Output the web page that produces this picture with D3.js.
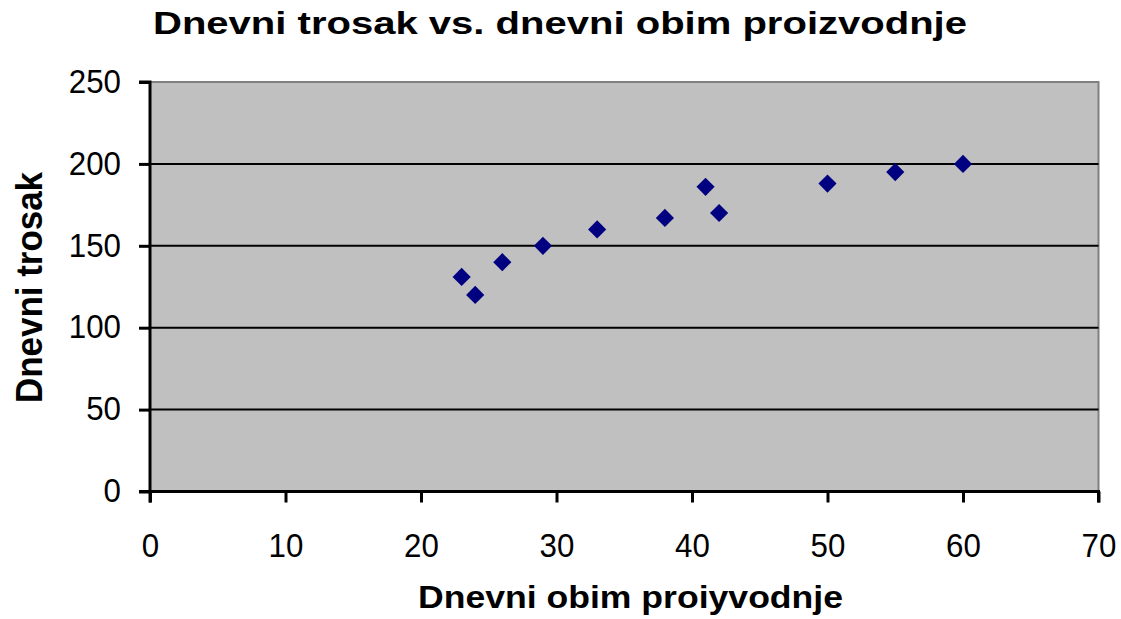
<!DOCTYPE html>
<html lang="en">
    <head>
        <meta charset="utf-8">
        <title>Dnevni trosak vs. dnevni obim proizvodnje</title>
        <script src="https://d3js.org/d3.v7.min.js"></script>
        <style type="text/css">
            body { margin: 0; background: #fff; }
            text { font-family: Arial, "Liberation Sans", sans-serif; fill: #000; }
        </style>
    </head>
    <body>
        <script type="text/javascript">

        // data
        var obim = [23, 24, 26, 29, 33, 38, 41, 42, 50, 55, 60];
        var trosak = [131, 120, 140, 150, 160, 167, 186, 170, 188, 195, 200];
        var xTicks = [0, 10, 20, 30, 40, 50, 60, 70];
        var yTicks = [0, 50, 100, 150, 200, 250];

        var svgWidth = 1121;
        var svgHeight = 619;

        // plot box
        var pLeft = 150, pRight = 1098.5, pTop = 82, pBottom = 491.5;

        var svg = d3.select("body").append("svg")
            .attr("width", svgWidth)
            .attr("height", svgHeight);

        var x = d3.scaleLinear().domain([0, 70]).range([pLeft, pRight]);
        var y = d3.scaleLinear().domain([0, 250]).range([pBottom, pTop]);

        // grey plot area
        svg.append("rect")
            .attr("x", pLeft)
            .attr("y", pTop)
            .attr("width", pRight - pLeft)
            .attr("height", pBottom - pTop)
            .style("fill", "#c0c0c0");

        // top and right border
        svg.append("path")
            .attr("d", "M" + pLeft + "," + pTop + "H" + pRight + "V" + pBottom)
            .style("fill", "none")
            .style("stroke", "#808080")
            .style("stroke-width", 2);

        // gridlines
        svg.selectAll("line.grid")
            .data(yTicks.filter(function(d) { return d > 0 && d < 250; }))
            .enter().append("line")
            .attr("class", "grid")
            .attr("x1", pLeft)
            .attr("x2", pRight)
            .attr("y1", function(d) { return y(d); })
            .attr("y2", function(d) { return y(d); })
            .style("stroke", "#000")
            .style("stroke-width", 2);

        // axes
        var xAxis = d3.axisBottom(x).tickValues(xTicks).tickSize(11).tickPadding(30);
        var yAxis = d3.axisLeft(y).tickValues(yTicks).tickSize(11).tickPadding(18);

        var gx = svg.append("g")
            .attr("transform", "translate(0," + pBottom + ")")
            .call(xAxis);
        var gy = svg.append("g")
            .attr("transform", "translate(" + pLeft + ",0)")
            .call(yAxis);

        [gx, gy].forEach(function(g) {
            g.select(".domain").attr("stroke", "#000").attr("stroke-width", 3);
            g.selectAll(".tick line").attr("stroke", "#000").attr("stroke-width", 3);
            g.selectAll(".tick text")
                .style("font-size", "34px")
                .style("font-family", "Arial, 'Liberation Sans', sans-serif")
                .attr("fill", "#000")
                .attr("textLength", function(d) { return String(d).length * 17.4; })
                .attr("lengthAdjust", "spacingAndGlyphs");
        });
        gx.select(".domain").attr("d", "M" + pLeft + ",11V0H" + pRight + "V11");
        gy.select(".domain").attr("d", "M-11," + pTop + "H0V" + pBottom + "H-11");
        gy.selectAll(".tick text").attr("dy", "0.3em");

        // points
        var diamond = d3.symbol().type(d3.symbolSquare).size(165);
        svg.selectAll("path.pt")
            .data(obim)
            .enter().append("path")
            .attr("class", "pt")
            .attr("d", diamond)
            .attr("transform", function(d, i) {
                return "translate(" + x(d) + "," + y(trosak[i]) + ") rotate(45)";
            })
            .style("fill", "#000080");

        // titles
        svg.append("text")
            .attr("x", 153)
            .attr("y", 34)
            .attr("textLength", 814)
            .attr("lengthAdjust", "spacingAndGlyphs")
            .style("font-size", "32px")
            .style("font-weight", "bold")
            .text("Dnevni trosak vs. dnevni obim proizvodnje");

        svg.append("text")
            .attr("x", 418)
            .attr("y", 608)
            .attr("textLength", 425)
            .attr("lengthAdjust", "spacingAndGlyphs")
            .style("font-size", "31px")
            .style("font-weight", "bold")
            .text("Dnevni obim proiyvodnje");

        svg.append("text")
            .attr("transform", "translate(42,403) rotate(-90)")
            .attr("textLength", 231)
            .attr("lengthAdjust", "spacingAndGlyphs")
            .style("font-size", "36px")
            .style("font-weight", "bold")
            .text("Dnevni trosak");

        </script>
    </body>
</html>
